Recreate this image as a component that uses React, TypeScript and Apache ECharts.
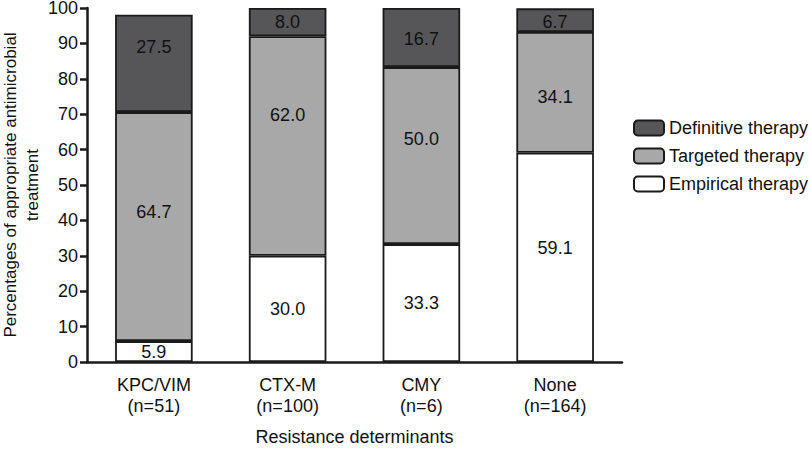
import React, { useEffect, useRef } from "react";
import * as echarts from "echarts";

const categories = ["KPC/VIM\n(n=51)", "CTX-M\n(n=100)", "CMY\n(n=6)", "None\n(n=164)"];
const empirical = [5.9, 30.0, 33.3, 59.1];
const targeted = [64.7, 62.0, 50.0, 34.1];
const definitive = [27.5, 8.0, 16.7, 6.7];
const yTicks = [0, 10, 20, 30, 40, 50, 60, 70, 80, 90, 100];

// label vertical nudges (px), to mimic the original label placement
const empiricalNudge = [0, 0, 0, -9];
const targetedNudge = [-15, -31, -17, 5];
const definitiveNudge = [-16, 0, 1, 2];

const FONT = "'Liberation Sans', Arial, sans-serif";
const INK = "#1a1a1a";
const FS = 18;

export default function App() {
  const ref = useRef<HTMLDivElement>(null);
  useEffect(() => {
    if (!ref.current) return;
    const chart = echarts.init(ref.current, undefined, { renderer: "svg" });
    const mk = (name: string, vals: number[], color: string, nudge: number[]) => ({
      name,
      type: "bar",
      stack: "total",
      barWidth: "58%",
      itemStyle: { color, borderColor: INK, borderWidth: 1.8 },
      data: vals.map((v, i) => ({
        value: v,
        label: { offset: [0, nudge[i]] },
      })),
      label: {
        show: true,
        position: "inside",
        color: "#111",
        fontSize: FS,
        fontFamily: FONT,
        formatter: (p: any) => Number(p.value).toFixed(1),
      },
    });
    chart.setOption({
      animation: false,
      backgroundColor: "#ffffff",
      textStyle: { fontFamily: FONT },
      grid: {
        left: 87,
        right: 188,
        top: 8,
        bottom: 88,
        containLabel: false,
        outerBoundsMode: "none",
      },
      legend: {
        orient: "vertical",
        left: 628,
        top: 114,
        padding: 5,
        itemWidth: 30,
        itemHeight: 15,
        itemGap: 10,
        icon: "roundRect",
        textStyle: { fontSize: FS, color: "#111", fontFamily: FONT },
        data: ["Definitive therapy", "Targeted therapy", "Empirical therapy"],
      },
      xAxis: {
        type: "category",
        data: categories,
        name: "Resistance determinants",
        nameLocation: "middle",
        nameGap: 66,
        nameMoveOverlap: false,
        nameTextStyle: { fontSize: FS, color: "#111", fontFamily: FONT },
        axisLine: { lineStyle: { color: INK, width: 2.5 } },
        axisTick: { alignWithLabel: true, length: 7, lineStyle: { color: INK, width: 2.5 } },
        axisLabel: { fontSize: FS, color: "#111", lineHeight: 21, margin: 12, fontFamily: FONT },
      },
      yAxis: {
        type: "value",
        min: yTicks[0],
        max: yTicks[yTicks.length - 1],
        interval: 10,
        name: "Percentages of appropriate antimicrobial\ntreatment",
        nameLocation: "middle",
        nameGap: 44,
        nameMoveOverlap: false,
        nameTextStyle: { fontSize: 17, color: "#111", lineHeight: 22, fontFamily: FONT },
        splitLine: { show: false },
        axisLine: { show: true, lineStyle: { color: INK, width: 2.5 } },
        axisTick: { show: true, length: 7, lineStyle: { color: INK, width: 2.5 } },
        axisLabel: { fontSize: FS, color: "#111", margin: 9, fontFamily: FONT },
      },
      series: [
        mk("Empirical therapy", empirical, "#ffffff", empiricalNudge),
        mk("Targeted therapy", targeted, "#a8a8a8", targetedNudge),
        mk("Definitive therapy", definitive, "#565659", definitiveNudge),
      ],
    });
    return () => chart.dispose();
  }, []);
  return <div ref={ref} style={{ width: 810, height: 450, position: "fixed", left: 0, top: 0 }} />;
}
